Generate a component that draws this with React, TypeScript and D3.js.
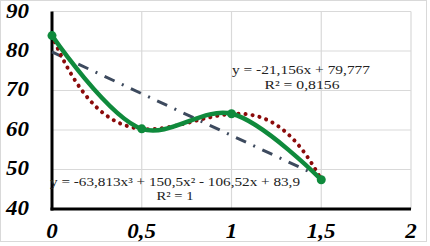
import * as d3 from 'd3'

const xs = [0, 0.5, 1, 1.5];
const ys = [83.9, 60.3, 64.1, 47.4];
const xTicks = [0, 0.5, 1, 1.5, 2];
const yTicks = [40, 50, 60, 70, 80, 90];
const linCoef = [79.777, -21.156];
const polyCoef = [83.9, -106.52, 150.5, -63.813];
const linLabel = ['y = -21,156x + 79,777', 'R² = 0,8156'];
const polyLabel = ['y = -63,813x³ + 150,5x² - 106,52x + 83,9', 'R² = 1'];

function App() {
  const width = 430;
  const height = 246;

  const x = d3.scaleLinear().domain([0, 2]).range([52, 411]);
  const y = d3.scaleLinear().domain([40, 90]).range([209, 11.5]);

  const pts: [number, number][] = xs.map((v, i) => [v, ys[i]]);

  const mainLine: any = d3.line<[number, number]>()
    .x(d => x(d[0]))
    .y(d => y(d[1]))
    .curve(d3.curveCatmullRom.alpha(0.5));

  // trendlines from the coefficients shown on the chart
  const steps = d3.range(0, 1.5001, 0.01);
  const poly = (t: number) => polyCoef.reduce((s, c, k) => s + c * Math.pow(t, k), 0);
  const polyPath: any = d3.line<number>().x(d => x(d)).y(d => y(poly(d)))(steps);
  const linPath: any = d3.line<number>().x(d => x(d)).y(d => y(linCoef[0] + linCoef[1] * d))([0, 1.5]);

  const tickFont = {
    fontFamily: '"Liberation Serif", serif',
    fontWeight: 'bold',
    fontStyle: 'italic',
    fontSize: 20,
  } as const;

  return (
    <div>
      <svg width={width} height={height} style={{ position: 'absolute', left: 0, top: 0 }}>
        <rect x={0.5} y={0.5} width={426} height={241} fill="white" stroke="#d9d9d9" />
        {yTicks.filter(t => t > 40).map(t => (
          <line key={'h' + t} x1={x(0)} x2={x(2)} y1={y(t)} y2={y(t)} stroke="#d9d9d9" strokeWidth={1.2} />
        ))}
        {xTicks.filter(t => t > 0).map(t => (
          <line key={'v' + t} x1={x(t)} x2={x(t)} y1={y(90)} y2={y(40)} stroke="#d9d9d9" strokeWidth={1.2} />
        ))}
        <line x1={x(0)} x2={x(0)} y1={y(90)} y2={y(40) + 1.5} stroke="black" strokeWidth={3} />
        <line x1={x(0) - 1.5} x2={x(2)} y1={y(40)} y2={y(40)} stroke="black" strokeWidth={3} />

        {yTicks.map(t => (
          <text key={'yl' + t} x={29} y={y(t) + 6} textAnchor="end" style={tickFont}
            transform={`translate(29,0) scale(1.15,1) translate(-29,0)`}>{t}</text>
        ))}
        {xTicks.map(t => (
          <text key={'xl' + t} x={x(t)} y={238} textAnchor="middle" style={tickFont}
            transform={`translate(${x(t)},0) scale(1.15,1) translate(${-x(t)},0)`}>{String(t).replace('.', ',')}</text>
        ))}

        <path d={linPath} fill="none" stroke="#3d4a5e" strokeWidth={3} strokeDasharray="11,8,2,8" />
        <path d={polyPath} fill="none" stroke="#8b0a0a" strokeWidth={4} strokeLinecap="round" strokeDasharray="0.1,7" />
        <path d={mainLine(pts)} fill="none" stroke="#0f8a3c" strokeWidth={4.5} />
        {pts.map((p, i) => (
          <circle key={i} cx={x(p[0])} cy={y(p[1])} r={4.5} fill="#0f8a3c" />
        ))}

        <g style={{ fontFamily: '"Liberation Serif", serif', fontSize: 12.5 }} fill="#222">
          <text x={301} y={74} textAnchor="middle" textLength={138} lengthAdjust="spacingAndGlyphs">{linLabel[0]}</text>
          <text x={302} y={89} textAnchor="middle" textLength={75} lengthAdjust="spacingAndGlyphs">{linLabel[1]}</text>
          <text x={175} y={186} textAnchor="middle" textLength={250} lengthAdjust="spacingAndGlyphs">{polyLabel[0]}</text>
          <text x={175} y={200} textAnchor="middle" textLength={37} lengthAdjust="spacingAndGlyphs">{polyLabel[1]}</text>
        </g>
      </svg>
    </div>
  );
}

export default App;
